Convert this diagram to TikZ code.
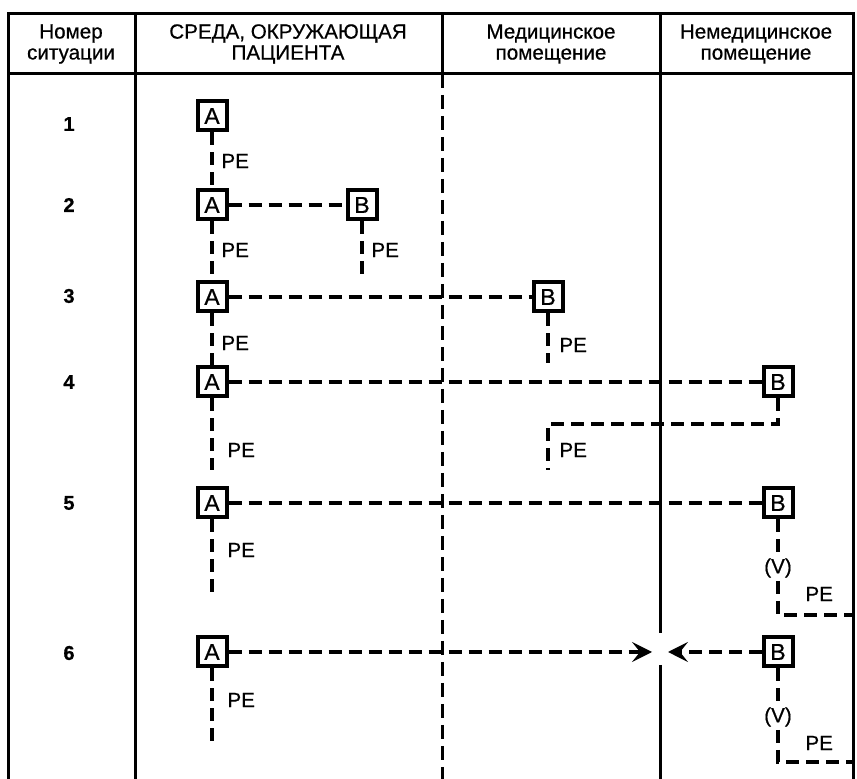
\documentclass[tikz,border=0pt]{standalone}
\usepackage{fontspec}
\setmainfont[FakeBold=0.6]{Liberation Sans}
\usetikzlibrary{arrows.meta}
\tikzset{
	frame/.style={line width=1.5pt},%
	wall/.style={line width=1.5pt,dash pattern=on 7pt off 3.5pt},%
	wire/.style={line width=1.9pt,dash pattern=on 6.5pt off 3.5pt},%
	device/.style={draw,line width=2pt,minimum size=14.5pt,inner sep=0pt,font=\fontsize{11.5}{12}\selectfont},%
	head/.style={align=center,font=\fontsize{10.3}{10.5}\selectfont},%
	rownum/.style={font=\fontsize{10}{11}\selectfont\bfseries},%
	pe/.style={inner sep=1.5pt,font=\fontsize{10.3}{11}\selectfont},%
	tip/.style={-{Stealth[length=10pt,width=10pt,inset=4pt,line width=0.8pt]}},%
}
\def\gapup{633}
\def\gapdown{665}

\begin{document}
\begin{tikzpicture}[x=0.5pt,y=-0.5pt]
	\useasboundingbox (0,0) rectangle (857,779);
	% Table {{{
	\draw[frame] (8,779) -- (8,14) -- (853,14) -- (853,779);
	\draw[frame] (8,74) -- (853,74);
	\draw[frame] (135,14) -- (135,779);
	\draw[frame] (442,14) -- (442,74);
	\draw[wall] (442,74) -- (442,779);
	\draw[frame] (660,14) -- (660,\gapup) (660,\gapdown) -- (660,779);
	\node[head] (hnum) at (71,44) {Номер\\ситуации};
	\node[head] (henv) at (288,44) {СРЕДА, ОКРУЖАЮЩАЯ\\ПАЦИЕНТА};
	\node[head] (hmed) at (551,44) {Медицинское\\помещение};
	\node[head] (hnon) at (756,44) {Немедицинское\\помещение};
	\foreach \n/\y in {1/124,2/205,3/296,4/382,5/503,6/653}
		\node[rownum] (n\n) at (69,\y) {\n};
	% }}}
	% Devices {{{
	\node[device] (a1) at (212,116) {A};
	\node[device] (a2) at (212,205) {A};
	\node[device] (b2) at (362,205) {B};
	\node[device] (a3) at (212,297) {A};
	\node[device] (b3) at (548,297) {B};
	\node[device] (a4) at (212,382) {A};
	\node[device] (b4) at (778,382) {B};
	\node[device] (a5) at (212,503) {A};
	\node[device] (b5) at (778,503) {B};
	\node[device] (a6) at (212,652) {A};
	\node[device] (b6) at (778,652) {B};
	% }}}
	% Ends and corners {{{
	\coordinate (e2) at (362,275);
	\coordinate (e3) at (548,363);
	\coordinate (e4) at (212,470);
	\coordinate (k4) at (778,424);
	\coordinate (m4) at (548,424);
	\coordinate (f4) at (548,470);
	\coordinate (e5) at (212,596);
	\coordinate (k5) at (778,615);
	\coordinate (f5) at (853,615);
	\coordinate (e6) at (212,742);
	\coordinate (k6) at (778,762);
	\coordinate (f6) at (853,762);
	\coordinate (g6) at (660,652);
	% }}}
	% Labels {{{
	\node[pe,anchor=west] (pe1) at (218,161) {PE};
	\node[pe,anchor=west] (pe2a) at (218,250) {PE};
	\node[pe,anchor=west] (pe2b) at (368,250) {PE};
	\node[pe,anchor=west] (pe3a) at (218,343) {PE};
	\node[pe,anchor=west] (pe3b) at (556,345) {PE};
	\node[pe,anchor=west] (pe4a) at (224,450) {PE};
	\node[pe,anchor=west] (pe4b) at (556,450) {PE};
	\node[pe,anchor=west] (pe5a) at (224,550) {PE};
	\node[pe,anchor=west] (pe5b) at (802,594) {PE};
	\node[pe,anchor=west] (pe6a) at (224,700) {PE};
	\node[pe,anchor=west] (pe6b) at (802,743) {PE};
	\node[pe] (v5) at (778,568) {(V)};
	\node[pe] (v6) at (778,717) {(V)};
	% }}}
	% Wires {{{
	\draw[wire] (a1) -- (a2);
	\draw[wire] (a2) -- (a3);
	\draw[wire] (a3) -- (a4);
	\draw[wire] (a2) -- (b2);
	\draw[wire] (b2) -- (e2);
	\draw[wire] (a3) -- (b3);
	\draw[wire] (b3) -- (e3);
	\draw[wire] (a4) -- (b4);
	\draw[wire] (a4) -- (e4);
	\draw[wire] (b4) -- (k4) -- (m4) -- (f4);
	\draw[wire] (a5) -- (b5);
	\draw[wire] (a5) -- (e5);
	\draw[wire] (b5) -- (v5) -- (k5) -- (f5);
	\draw[wire,tip] (a6) -- ([xshift=-4pt]g6);
	\draw[wire,tip] (b6) -- ([xshift=4pt]g6);
	\draw[wire] (a6) -- (e6);
	\draw[wire] (b6) -- (v6) -- (k6) -- (f6);
	% }}}
\end{tikzpicture}
\end{document}
